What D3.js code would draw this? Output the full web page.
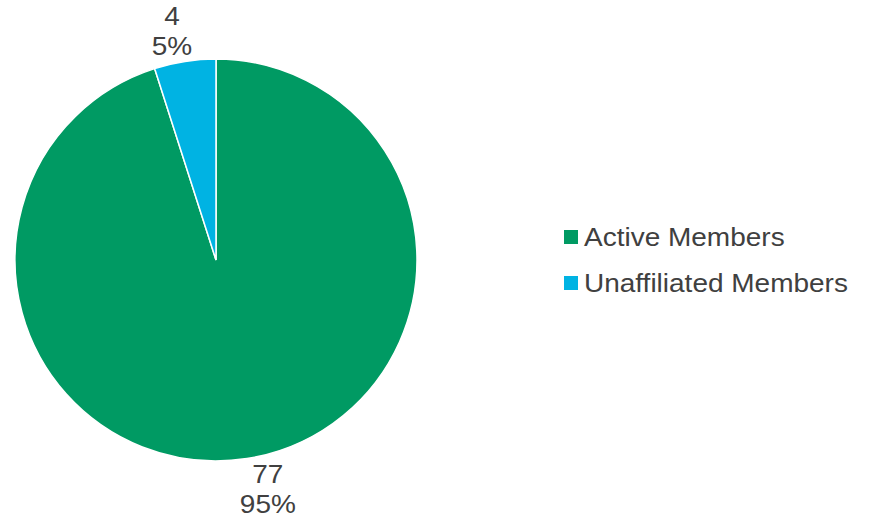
<!DOCTYPE html>
<html>
<head>
<meta charset="utf-8">
<script src="https://cdn.jsdelivr.net/npm/d3@7"></script>
<style>
  html, body { margin: 0; padding: 0; background: #ffffff; }
  svg { display: block; }
  text { font-family: "Liberation Sans", Arial, sans-serif; }
</style>
</head>
<body>
<svg id="chart" width="875" height="520"></svg>
<script>
// Membership breakdown
const categories = ["Active Members", "Unaffiliated Members"];
const counts = [77, 4];
const colors = ["#009A63", "#00B3E3"];

const svg = d3.select("#chart");
const cx = 216, cy = 260, radius = 201;
const fontSize = 25, stretch = 1.12, textColor = "#404040";
const total = d3.sum(counts);

const data = categories.map((c, i) => ({ name: c, value: counts[i], color: colors[i] }));

const pie = d3.pie().value(d => d.value).sort(null);
const arcs = pie(data);
const arc = d3.arc().innerRadius(0).outerRadius(radius);

const g = svg.append("g").attr("transform", `translate(${cx},${cy})`);

g.selectAll("path.slice")
  .data(arcs)
  .join("path")
  .attr("class", "slice")
  .attr("d", arc)
  .attr("fill", d => d.data.color)
  .attr("stroke", "#ffffff")
  .attr("stroke-width", 1.5);

// Value and percentage labels placed just outside each slice
const labels = g.selectAll("g.label")
  .data(arcs)
  .join("g")
  .attr("class", "label");

const inner = labels.append("g").attr("transform", `scale(${stretch},1)`);

inner.append("text")
  .attr("text-anchor", "middle")
  .attr("y", -6)
  .attr("font-size", fontSize)
  .attr("fill", textColor)
  .text(d => d.data.value);

inner.append("text")
  .attr("text-anchor", "middle")
  .attr("y", 24)
  .attr("font-size", fontSize)
  .attr("fill", textColor)
  .text(d => Math.round(d.data.value / total * 100) + "%");

labels.attr("transform", function(d) {
  const a = (d.startAngle + d.endAngle) / 2;
  const r = radius + 5;
  const px = r * Math.sin(a), py = -r * Math.cos(a);
  const w = d3.max(d3.select(this).selectAll("text").nodes(), n => n.getComputedTextLength()) * stretch;
  const x = px + Math.sign(px) * (w / 2 - 8);
  const y = py + Math.sign(py) * 25;
  return `translate(${x},${y})`;
});

// Legend
const legend = svg.append("g").attr("transform", "translate(564,237)");
const items = legend.selectAll("g.item")
  .data(data)
  .join("g")
  .attr("class", "item")
  .attr("transform", (d, i) => `translate(0,${i * 46})`);

items.append("rect")
  .attr("x", 0)
  .attr("y", -7)
  .attr("width", 14)
  .attr("height", 14)
  .attr("fill", d => d.color);

items.append("text")
  .attr("transform", `translate(20,8.5) scale(${stretch},1)`)
  .attr("font-size", fontSize)
  .attr("fill", textColor)
  .text(d => d.name);
</script>
</body>
</html>
